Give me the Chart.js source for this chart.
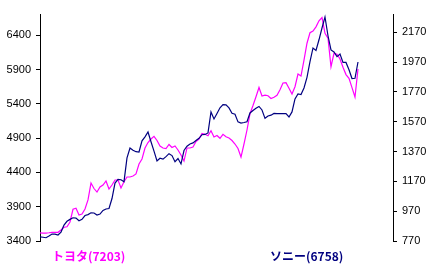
<!DOCTYPE html>
<html>
<head>
<meta charset="utf-8">
<script src="https://cdn.jsdelivr.net/npm/chart.js@4"></script>
<style>
  html, body { margin: 0; padding: 0; background: #fff; }
  #wrap { position: relative; width: 433px; height: 274px; }
  .lbl { position: absolute; top: 249px; font: bold 12px "Noto Sans CJK JP", sans-serif; line-height: 14px; white-space: nowrap; }
</style>
</head>
<body>
<div id="wrap">
  <canvas id="chart" width="433" height="274"></canvas>
  <div class="lbl" style="left:52px;color:#ff00ff">トヨタ(7203)</div>
  <div class="lbl" style="left:270px;color:#000080">ソニー(6758)</div>
</div>
<script>
// 株価データ（日次、左から右へ）
const toyota = [
  3517, 3515, 3514, 3520, 3527, 3527, 3527, 3560, 3601, 3607,
  3677, 3862, 3877, 3779, 3794, 3866, 3998, 4245, 4165, 4114,
  4187, 4216, 4275, 4158, 4216, 4289, 4289, 4173, 4264, 4333,
  4333, 4348, 4377, 4522, 4595, 4756, 4836, 4887, 4926, 4865,
  4785, 4756, 4748, 4807, 4763, 4785, 4727, 4654, 4566, 4756,
  4756, 4770, 4850, 4887, 4967, 4955, 4935, 5008, 4916, 4938,
  4897, 4954, 4919, 4901, 4865, 4814, 4748, 4624, 4814, 5018,
  5256, 5375, 5503, 5638, 5514, 5525, 5517, 5477, 5495, 5524,
  5604, 5703, 5708, 5627, 5543, 5649, 5834, 5805, 6038, 6283,
  6436, 6461, 6522, 6611, 6658, 6428, 6355, 5941, 6136, 6123,
  6053, 5932, 5826, 5772, 5635, 5499, 5907
];
const sony = [
   798,  795,  792,  804,  817,  816,  810,  830,  877,  902,
   915,  926,  924,  906,  915,  941,  947,  959,  958,  944,
   951,  975,  985,  988, 1055, 1159, 1184, 1181, 1168, 1328,
  1394, 1379, 1369, 1367, 1442, 1469, 1501, 1436, 1373, 1307,
  1325, 1319, 1336, 1356, 1343, 1302, 1323, 1287, 1377, 1406,
  1421, 1428, 1444, 1459, 1483, 1485, 1495, 1636, 1589, 1626,
  1664, 1685, 1683, 1663, 1627, 1621, 1569, 1561, 1565, 1570,
  1629, 1646, 1661, 1673, 1649, 1593, 1609, 1614, 1626, 1624,
  1624, 1624, 1624, 1602, 1636, 1723, 1757, 1753, 1797, 1868,
  1973, 2065, 2048, 2120, 2199, 2273, 2147, 2052, 2038, 2007,
  2024, 1968, 1968, 1919, 1860, 1862, 1971
];
const toyotaTicks = [3400, 3900, 4400, 4900, 5400, 5900, 6400];
const sonyTicks   = [770, 970, 1170, 1370, 1570, 1770, 1970, 2170];

const days = toyota.map((_, i) => i);

const pts = arr => arr.map((v, i) => ({ x: days[i], y: v }));

const axisCommon = {
  border: { display: true, color: '#000', width: 1 },
  grid: { drawOnChartArea: false, drawTicks: true, tickLength: 4, color: '#000' },
  ticks: {
    color: '#000',
    padding: 5,
    font: { family: "'Liberation Sans', Arial, sans-serif", size: 11 },
    autoSkip: false,
    callback: v => String(v),
  },
};

new Chart(document.getElementById('chart'), {
  type: 'line',
  data: {
    datasets: [
      {
        label: 'ソニー(6758)',
        data: pts(sony),
        yAxisID: 'ySony',
        borderColor: '#000080',
        borderWidth: 1.2,
        pointRadius: 0,
        tension: 0,
        order: 0,
      },
      {
        label: 'トヨタ(7203)',
        data: pts(toyota),
        yAxisID: 'yToyota',
        borderColor: '#ff00ff',
        borderWidth: 1.2,
        pointRadius: 0,
        tension: 0,
        order: 1,
      },
    ],
  },
  options: {
    responsive: false,
    animation: false,
    events: [],
    layout: { padding: { top: 14, bottom: 33, left: 0, right: 0 } },
    plugins: { legend: { display: false }, tooltip: { enabled: false } },
    scales: {
      x: { type: 'linear', min: 0, max: 117.67, display: false },
      yToyota: {
        ...axisCommon,
        position: 'left',
        min: 3400,
        max: 6709,
        afterBuildTicks: s => { s.ticks = toyotaTicks.map(v => ({ value: v })); },
        afterFit: s => { s.width = 40; },
      },
      ySony: {
        ...axisCommon,
        position: 'right',
        min: 770,
        max: 2293,
        afterBuildTicks: s => { s.ticks = sonyTicks.map(v => ({ value: v })); },
        afterFit: s => { s.width = 40; },
      },
    },
  },
});
</script>
</body>
</html>
